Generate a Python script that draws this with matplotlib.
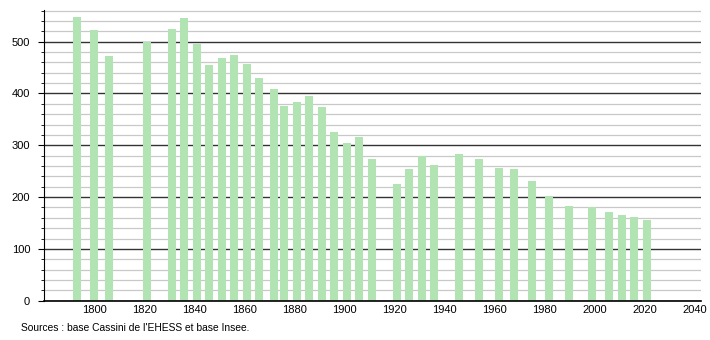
import matplotlib.pyplot as plt
import numpy as np

years = [1793, 1800, 1806, 1821, 1831, 1836, 1841, 1846, 1851, 1856, 1861, 1866,
         1872, 1876, 1881, 1886, 1891, 1896, 1901, 1906, 1911, 1921, 1926, 1931,
         1936, 1946, 1954, 1962, 1968, 1975, 1982, 1990, 1999, 2006, 2011, 2016, 2021]
population = [548, 523, 473, 499, 525, 545, 496, 454, 469, 475, 457, 430,
              409, 376, 383, 396, 374, 326, 305, 316, 274, 226, 255, 280,
              262, 284, 274, 257, 255, 232, 202, 183, 181, 171, 166, 162, 156]
x_ticks = list(range(1800, 2041, 20))
y_ticks = [0, 100, 200, 300, 400, 500]
source = "Sources : base Cassini de l'EHESS et base Insee."

plt.rcParams['font.family'] = ['Liberation Sans', 'DejaVu Sans']

fig = plt.figure(figsize=(7.1, 3.4), dpi=100)
ax = fig.add_axes([0.062, 0.1153, 0.925, 0.8553])

ax.bar(years, population, width=3.2, color='#b1e3b3', zorder=2)

ax.set_xlim(1780, 2042.5)
ax.set_ylim(0, 561)
ax.set_xticks(x_ticks)
ax.set_yticks(y_ticks)
ax.set_yticks(np.arange(0, 561, 20), minor=True)

ax.grid(axis='y', which='minor', color='#c8c8c8', lw=0.9, zorder=0)
ax.grid(axis='y', which='major', color='#333333', lw=1.0, zorder=1)

for s in ['top', 'right']:
    ax.spines[s].set_visible(False)
ax.spines['left'].set_color('black')
ax.spines['bottom'].set_color('black')
ax.spines['bottom'].set_linewidth(1.2)

ax.tick_params(axis='x', length=0, pad=3, labelsize=8)
ax.tick_params(axis='y', which='major', length=4, pad=6, labelsize=8)
ax.tick_params(axis='y', which='minor', length=2.5)

fig.text(0.029, 0.035, source, fontsize=7.4, ha='left', va='center')

fig.savefig('out.png', dpi=100)
